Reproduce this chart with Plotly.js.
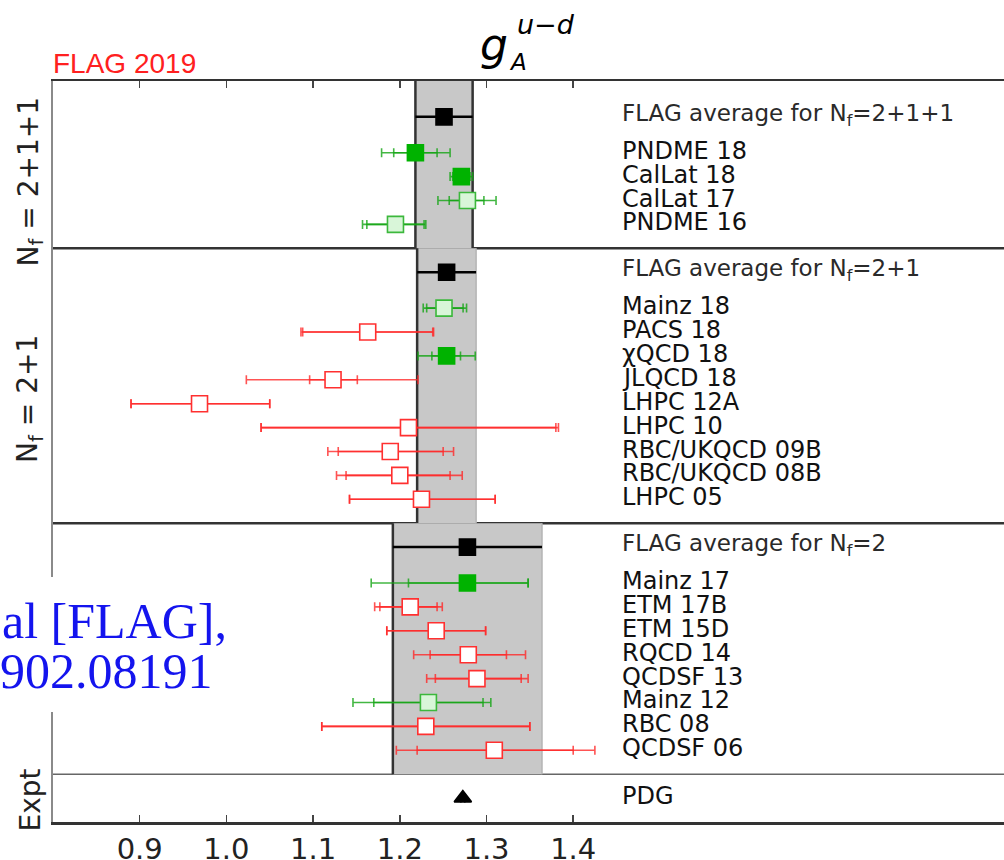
<!DOCTYPE html>
<html>
<head>
<meta charset="utf-8">
<script src="https://cdn.plot.ly/plotly-3.0.1.min.js"></script>
<style>
  html, body { margin: 0; padding: 0; background: #fff; overflow: hidden; }
  #chart { width: 1004px; height: 860px; }
</style>
</head>
<body>
<div id="chart"></div>
<script>
// ---------------- data ----------------
const labels = [
  'FLAG average for N<sub>f</sub>=2+1+1', 'PNDME 18', 'CalLat 18', 'CalLat 17', 'PNDME 16',
  'FLAG average for N<sub>f</sub>=2+1', 'Mainz 18', 'PACS 18', 'χQCD 18', 'JLQCD 18', 'LHPC 12A',
  'LHPC 10', 'RBC/UKQCD 09B', 'RBC/UKQCD 08B', 'LHPC 05',
  'FLAG average for N<sub>f</sub>=2', 'Mainz 17', 'ETM 17B', 'ETM 15D', 'RQCD 14', 'QCDSF 13',
  'Mainz 12', 'RBC 08', 'QCDSF 06',
  'PDG'
];
const kinds = [
  'avg', 'fill', 'fill', 'light', 'light',
  'avg', 'light', 'open', 'fill', 'open', 'open', 'open', 'open', 'open', 'open',
  'avg', 'fill', 'open', 'open', 'open', 'open', 'light', 'open', 'open',
  'pdg'
];
const values = [
  1.251, 1.218, 1.271, 1.278, 1.195,
  1.254, 1.251, 1.163, 1.254, 1.123, 0.969, 1.210, 1.189, 1.200, 1.225,
  1.278, 1.278, 1.212, 1.242, 1.279, 1.289, 1.233, 1.230, 1.309,
  1.2727
];
const statLo = [
  0.033, 0.025, 0.010, 0.021, 0.033,
  0.034, 0.020, 0.075, 0.017, 0.027, 0.079, 0.170, 0.060, 0.062, 0.083,
  0.086, 0.068, 0.035, 0.057, 0.044, 0.048, 0.063, 0.120, 0.089,
  0.0023
];
const statHi = [
  0.033, 0.025, 0.010, 0.019, 0.033,
  0.034, 0.022, 0.075, 0.016, 0.028, 0.081, 0.170, 0.061, 0.058, 0.085,
  0.086, 0.070, 0.031, 0.057, 0.044, 0.051, 0.063, 0.120, 0.091,
  0.0023
];
const totLo = [
  0.033, 0.039, 0.013, 0.034, 0.038,
  0.034, 0.024, 0.077, 0.033, 0.100, 0.079, 0.170, 0.072, 0.073, 0.083,
  0.086, 0.111, 0.041, 0.057, 0.063, 0.058, 0.087, 0.120, 0.113,
  0.0023
];
const totHi = [
  0.033, 0.040, 0.013, 0.033, 0.035,
  0.034, 0.026, 0.076, 0.033, 0.098, 0.081, 0.173, 0.073, 0.072, 0.085,
  0.086, 0.070, 0.037, 0.057, 0.066, 0.059, 0.072, 0.120, 0.116,
  0.0023
];
const groupLabels = ['N<sub>f</sub> = 2+1+1', 'N<sub>f</sub> = 2+1', 'Expt'];
const tickVals = [0.9, 1.0, 1.1, 1.2, 1.3, 1.4];
const tickText = ['0.9', '1.0', '1.1', '1.2', '1.3', '1.4'];

// ---------------- row layout ----------------
const rows = [];
const seps = [];
let pos = 0;
for (let i = 0; i < kinds.length; i++) {
  const k = kinds[i];
  if (k === 'avg') {
    if (i === 0) pos = 1.5; else { seps.push(pos + 1); pos += 2; }
  } else if (k === 'pdg') {
    seps.push(pos + 1); pos += 2;
  } else {
    pos += (kinds[i - 1] === 'avg') ? 1.5 : 1;
  }
  rows.push(pos);
}
const yMax = pos + 1;

// ---------------- geometry ----------------
const W = 1004, H = 860;
const M = { l: 53, r: 0, t: 81, b: 38 };
const plotW = W - M.l - M.r, plotH = H - M.t - M.b;
const pxPerUnit = 867;
const xMin = 0.8, xMax = xMin + plotW / pxPerUnit;
const px2paperX = px => (px - M.l) / plotW;
const px2paperY = py => (H - M.b - py) / plotH;
const labelX = xMin + (620 - M.l) / pxPerUnit;

// ---------------- styles ----------------
const style = {
  open:  { fill: '#ffffff', line: '#ff3030', bar: 'rgba(255,40,40,0.8)' },
  light: { fill: '#d9f6d9', line: '#3cb83c', bar: 'rgba(20,165,20,0.8)' },
  fill:  { fill: '#00b200', line: '#00b200', bar: 'rgba(20,165,20,0.8)' },
  avg:   { fill: '#000000', line: '#000000', bar: '#000000' },
  pdg:   { fill: '#000000', line: '#000000', bar: '#000000' }
};

const traces = [];
['open', 'light', 'fill', 'avg', 'pdg'].forEach(k => {
  const idx = kinds.map((kk, i) => kk === k ? i : -1).filter(i => i >= 0);
  const s = style[k];
  const xs = idx.map(i => values[i]);
  const ys = idx.map(i => rows[i]);
  if (k !== 'avg' && k !== 'pdg') {
    traces.push({
      type: 'scatter', mode: 'markers', x: xs, y: ys,
      marker: { size: 1, color: 'rgba(0,0,0,0)' },
      error_x: { type: 'data', symmetric: false,
        array: idx.map(i => totHi[i]), arrayminus: idx.map(i => totLo[i]),
        color: s.bar, thickness: 1.6, width: 4.5 },
      hoverinfo: 'skip', showlegend: false
    });
  }
  traces.push({
    type: 'scatter', mode: 'markers', x: xs, y: ys,
    marker: {
      symbol: k === 'pdg' ? 'triangle-up' : 'square',
      size: k === 'pdg' ? 15 : 16,
      color: s.fill, line: { color: s.line, width: 1.6 }
    },
    error_x: (k === 'avg') ?
      { type: 'data', symmetric: false, array: idx.map(i => totHi[i]), arrayminus: idx.map(i => totLo[i]),
        color: s.bar, thickness: 2.5, width: 0 } :
      { type: 'data', symmetric: false, array: idx.map(i => statHi[i]), arrayminus: idx.map(i => statLo[i]),
        color: s.bar, thickness: 1.6, width: 4.5 },
    hoverinfo: 'skip', showlegend: false
  });
});

// ---------------- shapes ----------------
const shapes = [];
const avgIdx = kinds.map((k, i) => k === 'avg' ? i : -1).filter(i => i >= 0);
const bounds = [0].concat(seps);
avgIdx.forEach((ai, g) => {
  const x0 = values[ai] - totLo[ai], x1 = values[ai] + totHi[ai];
  const y0 = bounds[g], y1 = bounds[g + 1];
  shapes.push({ type: 'rect', xref: 'x', yref: 'y', x0: x0, x1: x1, y0: y0, y1: y1,
    fillcolor: '#c8c8c8', line: { width: 0 }, layer: 'below' });
  shapes.push({ type: 'line', xref: 'x', yref: 'y', x0: x0, x1: x0, y0: y0, y1: y1,
    line: { color: '#333333', width: 2.5 }, layer: 'below' });
  shapes.push({ type: 'line', xref: 'x', yref: 'y', x0: x1, x1: x1, y0: y0, y1: y1,
    line: { color: g === 0 ? '#333333' : '#b4b4b4', width: g === 0 ? 2.5 : 1.5 }, layer: 'below' });
});
seps.forEach((s, j) => {
  shapes.push({ type: 'line', xref: 'paper', yref: 'y', x0: 0, x1: 1, y0: s, y1: s,
    line: { color: j < 2 ? '#333333' : '#666666', width: j < 2 ? 2.5 : 1.6 }, layer: 'below' });
});
// white box behind the overlaid blue citation text
shapes.push({ type: 'rect', xref: 'paper', yref: 'paper',
  x0: px2paperX(-5), x1: px2paperX(250), y0: px2paperY(712), y1: px2paperY(577),
  fillcolor: '#ffffff', line: { width: 0 }, layer: 'above' });

// ---------------- annotations ----------------
const annotations = [];
labels.forEach((t, i) => {
  const isAvg = kinds[i] === 'avg';
  annotations.push({
    x: labelX, y: rows[i], xref: 'x', yref: 'y', text: t, showarrow: false,
    xanchor: 'left', yanchor: 'middle', yshift: 2,
    font: { family: 'DejaVu Sans', size: isAvg ? 23 : 24, color: isAvg ? '#2a2a2a' : '#111111' }
  });
});
const groupCentres = [(0 + seps[0]) / 2 + 0.7, (seps[0] + seps[1]) / 2 + 0.55, (seps[2] + yMax) / 2 + 0.1];
groupLabels.forEach((t, g) => {
  annotations.push({
    x: px2paperX(30), y: groupCentres[g], xref: 'paper', yref: 'y', text: t, showarrow: false,
    textangle: -90, xanchor: 'center', yanchor: 'middle',
    font: { family: 'DejaVu Sans', size: 28, color: '#222222' }
  });
});
// FLAG 2019 tag
annotations.push({ x: px2paperX(51), y: px2paperY(64), xref: 'paper', yref: 'paper',
  text: 'FLAG 2019', showarrow: false, xanchor: 'left', yanchor: 'middle',
  font: { family: 'Liberation Sans', size: 28, color: '#ff2020' } });
// title g_A^{u-d}
annotations.push({ x: px2paperX(478), y: px2paperY(44), xref: 'paper', yref: 'paper',
  text: '<i>g</i>', showarrow: false, xanchor: 'left', yanchor: 'middle',
  font: { family: 'DejaVu Sans', size: 44, color: '#000' } });
annotations.push({ x: px2paperX(507), y: px2paperY(62), xref: 'paper', yref: 'paper',
  text: '<i>A</i>', showarrow: false, xanchor: 'left', yanchor: 'middle',
  font: { family: 'DejaVu Sans', size: 23, color: '#000' } });
annotations.push({ x: px2paperX(515), y: px2paperY(24), xref: 'paper', yref: 'paper',
  text: '<i>u−d</i>', showarrow: false, xanchor: 'left', yanchor: 'middle',
  font: { family: 'DejaVu Sans', size: 27, color: '#000' } });
// overlaid blue citation text
annotations.push({ x: px2paperX(0), y: px2paperY(621), xref: 'paper', yref: 'paper',
  text: 'al [FLAG],', showarrow: false, xanchor: 'left', yanchor: 'middle',
  font: { family: 'Liberation Serif', size: 50, color: '#1414ee' } });
annotations.push({ x: px2paperX(-2), y: px2paperY(671), xref: 'paper', yref: 'paper',
  text: '902.08191', showarrow: false, xanchor: 'left', yanchor: 'middle',
  font: { family: 'Liberation Serif', size: 50, color: '#1414ee' } });

const layout = {
  width: W, height: H, margin: M,
  paper_bgcolor: '#ffffff', plot_bgcolor: '#ffffff',
  showlegend: false,
  xaxis: {
    range: [xMin, xMax], tickvals: tickVals, ticktext: tickText,
    ticks: 'inside', ticklen: 7, tickwidth: 1.5, tickcolor: '#444',
    showline: true, linecolor: '#333', linewidth: 2.5, mirror: 'ticks',
    showgrid: false, zeroline: false,
    tickfont: { family: 'DejaVu Sans', size: 29, color: '#222' }
  },
  yaxis: {
    range: [yMax, 0], showticklabels: false, ticks: '',
    showline: true, linecolor: '#8a8a8a', linewidth: 2,
    showgrid: false, zeroline: false
  },
  shapes: shapes,
  annotations: annotations
};

Plotly.newPlot('chart', traces, layout, { staticPlot: true, displayModeBar: false });
</script>
</body>
</html>
